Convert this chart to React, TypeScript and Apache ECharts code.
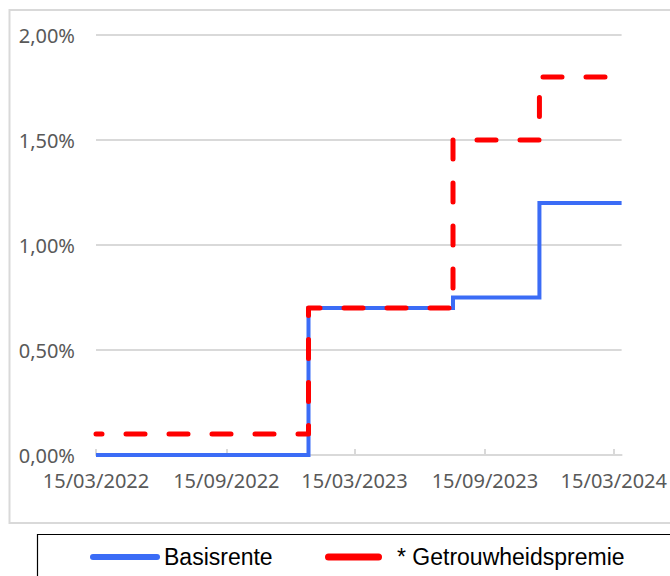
import React, { useEffect, useRef } from "react";
import * as echarts from "echarts";

// Step change dates (start of each level) and the axis end date
const stepDates = ["2022-03-15", "2023-01-09", "2023-08-01", "2023-12-01", "2024-03-26"];
// Rates in percent
const basisrente = [0.0, 0.7, 0.75, 1.2, 1.2];
const getrouwheidspremie = [0.1, 0.7, 1.5, 1.8, 1.8];
// X-axis tick labels
const xTickDates = ["2022-03-15", "2022-09-15", "2023-03-15", "2023-09-15", "2024-03-15"];
const seriesNames = ["Basisrente", "* Getrouwheidspremie"];
const seriesColors = ["#3b6cf6", "#ff0000"];

const ts = (s: string) => {
  const [y, m, d] = s.split("-").map(Number);
  return Date.UTC(y, m - 1, d);
};
const pad = (n: number) => (n < 10 ? "0" + n : "" + n);
const fmtDate = (v: number) => {
  const d = new Date(v);
  return pad(d.getUTCDate()) + "/" + pad(d.getUTCMonth() + 1) + "/" + d.getUTCFullYear();
};

export default function App() {
  const ref = useRef<HTMLDivElement>(null);
  useEffect(() => {
    if (!ref.current) return;
    const chart = echarts.init(ref.current, null, { renderer: "svg" });
    const blueData = stepDates.map((d, i) => [ts(d), basisrente[i]]);
    const redData = stepDates.map((d, i) => [ts(d), getrouwheidspremie[i]]);
    const tickVals = xTickDates.map(ts);
    const axisFont = { fontFamily: "Noto Sans", fontSize: 20, color: "#595959" };
    const legendFont = "23px 'Liberation Sans'";
    const legendY = 557;
    chart.setOption({
      animation: false,
      backgroundColor: "#ffffff",
      grid: { left: 96, right: 46, top: 35, bottom: 121, containLabel: false },
      xAxis: {
        type: "value",
        min: ts(stepDates[0]),
        max: ts(stepDates[stepDates.length - 1]),
        axisLine: { show: true, lineStyle: { color: "#d9d9d9", width: 2 } },
        axisTick: {
          show: true,
          inside: true,
          length: 6,
          customValues: tickVals,
          lineStyle: { color: "#d9d9d9", width: 2 },
        },
        axisLabel: {
          ...axisFont,
          margin: 15,
          customValues: tickVals,
          formatter: (v: number) => fmtDate(v),
          hideOverlap: false,
        },
        splitLine: { show: false },
      },
      yAxis: {
        type: "value",
        min: 0,
        max: 2,
        interval: 0.5,
        axisLine: { show: false },
        axisTick: { show: false },
        axisLabel: {
          ...axisFont,
          margin: 21,
          formatter: (v: number) => v.toFixed(2).replace(".", ",") + "%",
        },
        splitLine: { show: true, lineStyle: { color: "#d9d9d9", width: 2 } },
      },
      graphic: [
        {
          type: "rect",
          shape: { x: 9.5, y: 10, width: 720, height: 513 },
          style: { fill: "none", stroke: "#d9d9d9", lineWidth: 2 },
          silent: true,
        },
        {
          type: "rect",
          shape: { x: 37.5, y: 534.5, width: 720, height: 100 },
          style: { fill: "none", stroke: "#000000", lineWidth: 1.2 },
          silent: true,
        },
        {
          type: "line",
          shape: { x1: 93, y1: legendY, x2: 157, y2: legendY },
          style: { stroke: seriesColors[0], lineWidth: 6, lineCap: "round" },
          silent: true,
        },
        {
          type: "text",
          x: 164,
          y: legendY,
          style: { text: seriesNames[0], font: legendFont, fill: "#000", verticalAlign: "middle", align: "left" },
          silent: true,
        },
        {
          type: "line",
          shape: { x1: 328.5, y1: legendY, x2: 378.5, y2: legendY },
          style: { stroke: seriesColors[1], lineWidth: 7, lineCap: "round" },
          silent: true,
        },
        {
          type: "text",
          x: 397,
          y: legendY,
          style: { text: seriesNames[1], font: legendFont, fill: "#000", verticalAlign: "middle", align: "left" },
          silent: true,
        },
      ],
      series: [
        {
          name: seriesNames[0],
          type: "line",
          step: "end",
          data: blueData,
          showSymbol: false,
          symbol: "none",
          color: seriesColors[0],
          lineStyle: { color: seriesColors[0], width: 4, cap: "butt", join: "miter" },
          z: 2,
        },
        {
          name: seriesNames[1],
          type: "line",
          step: "end",
          data: redData,
          showSymbol: false,
          symbol: "none",
          color: seriesColors[1],
          lineStyle: {
            color: seriesColors[1],
            width: 5,
            type: [19, 24],
            dashOffset: 13,
            cap: "round",
            join: "round",
          },
          z: 3,
        },
      ],
    });
    return () => chart.dispose();
  }, []);
  return (
    <div
      ref={ref}
      style={{ position: "fixed", left: 0, top: 0, width: 670, height: 576, background: "#fff" }}
    />
  );
}
